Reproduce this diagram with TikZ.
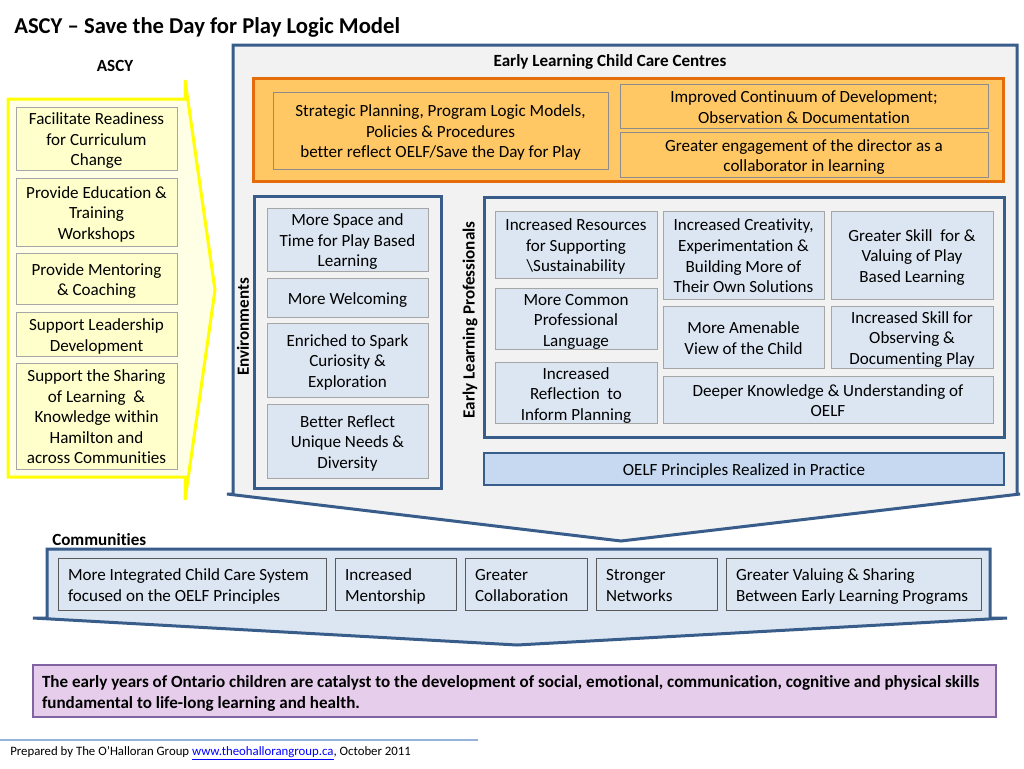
\documentclass[tikz,border=0pt]{standalone}
\usepackage{fontspec}
\setmainfont{Carlito}[Ligatures={NoCommon}]
\definecolor{dkblue}{HTML}{385D8A}
\definecolor{panelgray}{HTML}{F2F2F2}
\definecolor{boxblue}{HTML}{DCE6F2}
\definecolor{oelfblue}{HTML}{C6D9F1}
\definecolor{grayb}{HTML}{A6A6A6}
\definecolor{comdraw}{HTML}{595959}
\definecolor{ascyfill}{HTML}{FFFFE5}
\definecolor{ascyin}{HTML}{FFFFCC}
\definecolor{ascyline}{HTML}{FFFF00}
\definecolor{orfill}{HTML}{FFC864}
\definecolor{ordraw}{HTML}{E46C0A}
\definecolor{orin}{HTML}{8C8C8C}
\definecolor{purfill}{HTML}{E6CDEC}
\definecolor{purdraw}{HTML}{8064A2}
\definecolor{footline}{HTML}{95B3D7}
\definecolor{urlblue}{HTML}{0000FF}
\newcommand\bx[7]{%
  \pgfmathsetmacro\bxw{(#4-#2)*0.75}%
  \pgfmathsetmacro\bxh{(#5-#3)*0.75}%
  \node[#6, minimum width=\bxw pt, minimum height=\bxh pt] (#1) at ({(#2+#4)/2},{(#3+#5)/2}) {\raisebox{-2pt}[\height][\depth]{\begin{tabular}{@{}c@{}}#7\end{tabular}}};}
\newcommand\pnl[6]{%
  \pgfmathsetmacro\bxw{(#4-#2)*0.75}%
  \pgfmathsetmacro\bxh{(#5-#3)*0.75}%
  \node[#6, minimum width=\bxw pt, minimum height=\bxh pt] (#1) at ({(#2+#4)/2},{(#3+#5)/2}) {};}
\newcommand\lft[2]{\makebox[#1][l]{\begin{tabular}{@{}l@{}}#2\end{tabular}}}
\begin{document}
\begin{tikzpicture}[x=0.75pt,y=-0.75pt,
  every node/.style={font=\fontsize{12.8}{15.4}\selectfont, text=black},
  fitbox/.style={inner sep=0pt, outer sep=0pt, line width=0.75pt, anchor=center},
  asbox/.style={fitbox, fill=ascyin, draw=grayb},
  orbox/.style={fitbox, fill=orfill, draw=orin},
  envbox/.style={fitbox, fill=boxblue, draw=grayb},
  combox/.style={fitbox, fill=boxblue, draw=comdraw},
  panel/.style={fitbox, fill=panelgray, draw=dkblue, line width=2.25pt},
  lbl/.style={font=\fontsize{12.8}{15.4}\selectfont\bfseries, inner sep=0pt},
  bigshape/.style={line width=2.25pt, line join=miter}
]
\useasboundingbox (0,0) rectangle (1024,768);
\fill[white] (0,0) rectangle (1024,768);

% title
\node[font=\fontsize{17}{20}\selectfont\bfseries, anchor=west, inner sep=0pt] (title) at (14,27) {ASCY – Save the Day for Play Logic Model};

% ASCY chevron
\node[lbl] (ascylbl) at (115,66) {ASCY};
\draw[bigshape, fill=ascyfill, draw=ascyline] (8,99) -- (185,99) -- (185,80) -- (215,290) -- (185,500) -- (185,477) -- (8,477) -- cycle;
\bx{a1}{16}{107}{177}{170}{asbox}{Facilitate Readiness\\for Curriculum\\Change}
\bx{a2}{16}{178}{177}{246}{asbox}{Provide Education \&\\Training\\Workshops}
\bx{a3}{16}{253}{177}{304}{asbox}{Provide Mentoring\\\& Coaching}
\bx{a4}{16}{312}{177}{356}{asbox}{Support Leadership\\Development}
\bx{a5}{16}{363}{177}{469}{asbox}{Support the Sharing\\of Learning \ \&\\Knowledge within\\Hamilton and\\across Communities}

% ELCC big panel
\draw[bigshape, fill=panelgray, draw=dkblue] (233,45) -- (1017,45) -- (1017,494) -- (1020,494) -- (621,541) -- (227,494) -- (233,494) -- cycle;
\node[lbl] (elcclbl) at (610,62) {Early Learning Child Care Centres};

% orange block
\pnl{o0}{253}{78}{1003}{181}{fitbox, fill=orfill, draw=ordraw, line width=2.25pt}
\bx{o1}{273}{92}{608}{169}{orbox}{Strategic Planning, Program Logic Models,\\Policies \& Procedures\\better reflect OELF/Save the Day for Play}
\bx{o2}{620}{84}{988}{128}{orbox}{Improved Continuum of Development;\\Observation \& Documentation}
\bx{o3}{620}{132}{988}{177}{orbox}{Greater engagement of the director as a\\collaborator in learning}

% Environments
\node[lbl, rotate=90] (envlbl) at (243,327) {Environments};
\pnl{e0}{254}{196}{441}{488}{panel}
\bx{e1}{267}{208}{428}{271}{envbox}{More Space and\\Time for Play Based\\Learning}
\bx{e2}{267}{278}{428}{317}{envbox}{More Welcoming}
\bx{e3}{267}{323}{428}{397}{envbox}{Enriched to Spark\\Curiosity \&\\Exploration}
\bx{e4}{267}{404}{428}{478}{envbox}{Better Reflect\\Unique Needs \&\\Diversity}

% Early Learning Professionals
\node[lbl, rotate=90] (elplbl) at (470,320) {Early Learning Professionals};
\pnl{p0}{484}{197}{1004}{437}{panel}
\bx{p1}{495}{211}{657}{278}{envbox}{Increased Resources\\for Supporting\\\textbackslash Sustainability}
\bx{p2}{495}{289}{657}{349}{envbox}{More Common\\Professional\\Language}
\bx{p3}{495}{363}{657}{423}{envbox}{Increased\\Reflection \ to\\Inform Planning}
\bx{p4}{663}{211}{824}{299}{envbox}{Increased Creativity,\\Experimentation \&\\Building More of\\Their Own Solutions}
\bx{p5}{663}{306}{824}{368}{envbox}{More Amenable\\View of the Child}
\bx{p6}{831}{211}{993}{299}{envbox}{Greater Skill \ for \&\\Valuing of Play\\Based Learning}
\bx{p7}{831}{306}{993}{368}{envbox}{Increased Skill for\\Observing \&\\Documenting Play}
\bx{p8}{663}{376}{993}{423}{envbox}{Deeper Knowledge \& Understanding of\\OELF}
\bx{oelf}{484}{453}{1004}{485}{fitbox, fill=oelfblue, draw=dkblue, line width=1.5pt}{OELF Principles Realized in Practice}

% Communities
\node[lbl, anchor=west] (comlbl) at (52,540) {Communities};
\draw[bigshape, fill=boxblue, draw=dkblue] (47,549) -- (990,549) -- (990,618) -- (1007,618) -- (517,645) -- (33,618) -- (47,618) -- cycle;
\bx{c1}{58}{558}{326}{610}{combox}{\lft{186pt}{More Integrated Child Care System\\focused on the OELF Principles}}
\bx{c2}{335}{558}{456}{610}{combox}{\lft{75.75pt}{Increased\\Mentorship}}
\bx{c3}{465}{558}{587}{610}{combox}{\lft{76.5pt}{Greater\\Collaboration}}
\bx{c4}{596}{558}{717}{610}{combox}{\lft{75.75pt}{Stronger\\Networks}}
\bx{c5}{726}{558}{981}{610}{combox}{\lft{176.25pt}{Greater Valuing \& Sharing\\Between Early Learning Programs}}

% Outcome
\bx{pb}{33}{665}{996}{717}{fitbox, fill=purfill, draw=purdraw, line width=1.2pt, font=\fontsize{12.8}{15.6}\selectfont\bfseries}{\lft{708.75pt}{The early years of Ontario children are catalyst to the development of social, emotional, communication, cognitive and physical skills\\fundamental to life-long learning and health.}}

% footer
\coordinate (fl1) at (0,740);
\coordinate (fl2) at (478,740);
\draw[footline, line width=0.9pt] (fl1) -- (fl2);
\node[anchor=west, inner sep=0pt, font=\fontsize{9.6}{11}\selectfont] (foot) at (10,753) {Prepared by The O’Halloran Group \textcolor{urlblue}{\underline{www.theohallorangroup.ca}}, October 2011};
\end{tikzpicture}
\end{document}
